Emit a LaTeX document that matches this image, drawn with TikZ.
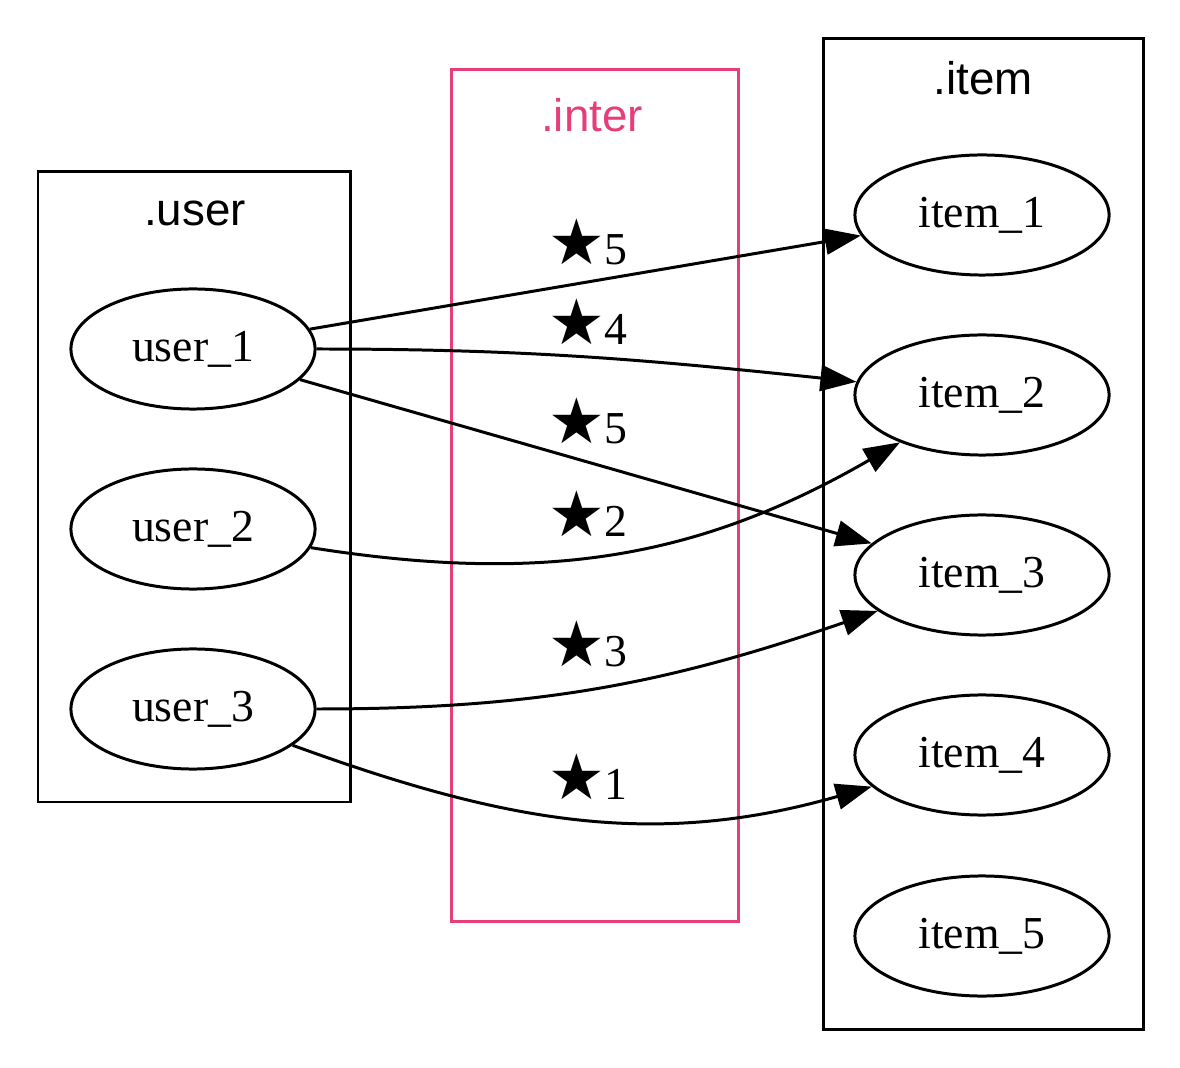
\documentclass[tikz,border=0pt]{standalone}
\usepackage{fontspec}
\setmainfont{Liberation Serif}
\newfontfamily\titlefont{Liberation Sans}
\newfontfamily\starfont{DejaVu Sans}
\usetikzlibrary{arrows.meta,shapes.geometric}
\definecolor{interpink}{RGB}{229,62,122}
\tikzset{
    rec/.style = {ellipse, draw, line width=0.85pt, minimum height=1.2cm, inner sep=0pt, font=\fontsize{13}{15}\selectfont},
    usr/.style = {rec, minimum width=2.44cm},
    itm/.style = {rec, minimum width=2.54cm},
    rating/.style = {font=\fontsize{13}{15}\selectfont},
    clustertitle/.style = {font=\titlefont\fontsize{13}{15}\selectfont},
    edge/.style = {line width=0.85pt, -{Triangle[length=0.36cm, width=0.26cm]}}
}
\newcommand{\rstar}{{\starfont\fontsize{18}{18}\selectfont ★}}
\begin{document}
\begin{tikzpicture}[x=0.01cm, y=-0.01cm]
        \useasboundingbox (0, 0) rectangle (1180, 1068);
        % clusters
        \draw[line width=0.85pt] (38, 172) rectangle (350, 802);
        \draw[line width=0.85pt, interpink] (451, 70) rectangle (738, 921);
        \draw[line width=0.85pt] (823, 39) rectangle (1143, 1029);
        \node[clustertitle] (tuser) at (195, 213) {.user};
        \node[clustertitle, interpink] (tinter) at (592, 115) {.inter};
        \node[clustertitle] (titem) at (983, 78) {.item};
        % users
        \node[usr] (u1) at (193, 349) {user\_1};
        \node[usr] (u2) at (193, 529) {user\_2};
        \node[usr] (u3) at (193, 709) {user\_3};
        % items
        \node[itm] (i1) at (982, 215) {item\_1};
        \node[itm] (i2) at (982, 395) {item\_2};
        \node[itm] (i3) at (982, 575) {item\_3};
        \node[itm] (i4) at (982, 755) {item\_4};
        \node[itm] (i5) at (982, 936) {item\_5};
        % ratings
        \draw[edge] (u1) -- (i1);
        \draw[edge] (u1.east) to[out=0, in=174] (i2);
        \draw[edge] (u1) -- (i3);
        \draw[edge] (u2) to[out=-9, in=-150] (i2);
        \draw[edge] (u3.east) to[out=0, in=199] (i3);
        \draw[edge] (u3) to[out=-20, in=196] (i4);
        \node[rating] (r1) at (588, 242) {\rstar5};
        \node[rating] (r2) at (588, 322) {\rstar4};
        \node[rating] (r3) at (588, 421) {\rstar5};
        \node[rating] (r4) at (588, 514) {\rstar2};
        \node[rating] (r5) at (588, 644) {\rstar3};
        \node[rating] (r6) at (588, 777) {\rstar1};
    \end{tikzpicture}
\end{document}
